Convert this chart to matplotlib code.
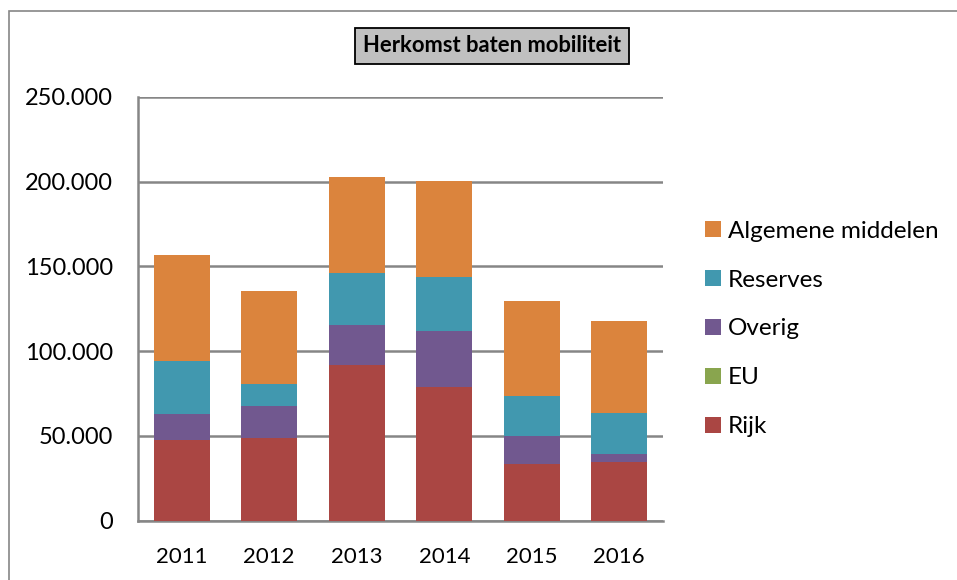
import matplotlib
matplotlib.use("Agg")
import matplotlib.pyplot as plt
import numpy as np
from matplotlib.patches import Rectangle
from matplotlib.ticker import FuncFormatter

years = ["2011", "2012", "2013", "2014", "2015", "2016"]
rijk = [47300, 48500, 92000, 79100, 33200, 34300]
eu = [0, 0, 0, 0, 0, 0]
overig = [15300, 18800, 23600, 33000, 16500, 4700]
reserves = [31800, 13000, 30600, 31800, 23500, 24700]
algemene = [62400, 55400, 56500, 56500, 56500, 54200]

series_names = ["Rijk", "EU", "Overig", "Reserves", "Algemene middelen"]
series_vals = [rijk, eu, overig, reserves, algemene]
colors = ["#AA4643", "#89A54E", "#71588F", "#4198AF", "#DB843D"]
yticks = [0, 50000, 100000, 150000, 200000, 250000]
title = "Herkomst baten mobiliteit"

plt.rcParams['font.family'] = ['Lato', 'DejaVu Sans']

W, H = 957, 580
fig = plt.figure(figsize=(W / 100, H / 100), dpi=100)

# outer chart border
fig.patches.append(Rectangle((9 / W, -0.1), 1.2, 1 - 11 / H + 0.1, transform=fig.transFigure,
                             fill=False, edgecolor="#868686", linewidth=1.2))

ax = fig.add_axes([138 / W, 1 - 520.5 / H, (663 - 138) / W, (520.5 - 97) / H])

x = np.arange(len(years))
bottom = np.zeros(len(years))
handles = []
for name, vals, c in zip(series_names, series_vals, colors):
    v = np.array(vals, dtype=float)
    b = ax.bar(x, v, bottom=bottom, width=0.64, color=c, label=name, zorder=3)
    handles.append(b)
    bottom += v

ax.set_xlim(-0.5, len(years) - 0.5)
ax.set_ylim(0, 250000)
ax.set_yticks(yticks)
ax.yaxis.set_major_formatter(FuncFormatter(lambda v, p: f"{int(v):,}".replace(",", ".")))
ax.set_xticks(x)
ax.set_xticklabels(years)
ax.grid(axis="y", color="#868686", linewidth=1.8, zorder=0)
for s in ["top", "right"]:
    ax.spines[s].set_visible(False)
ax.spines["left"].set_color("#868686")
ax.spines["left"].set_linewidth(1.8)
ax.spines["bottom"].set_color("#868686")
ax.spines["bottom"].set_linewidth(1.8)
ax.tick_params(axis="both", length=0, colors="black")
ax.tick_params(axis="y", pad=18, labelsize=17)
ax.tick_params(axis="x", pad=19, labelsize=16)

fig.text(492 / W, 1 - 46 / H, title, ha="center", va="center", fontsize=15.8, fontweight="bold",
         bbox=dict(boxstyle="square,pad=0.35", facecolor="#C0C0C0", edgecolor="black", linewidth=1.3))

leg = fig.legend(handles[::-1], series_names[::-1], loc="center left",
                 bbox_to_anchor=(683 / W, 1 - 329 / H), frameon=False, fontsize=17.5,
                 handlelength=0.66, handleheight=0.66, handletextpad=0.28, labelspacing=1.15)

fig.savefig("out.png", dpi=100)
